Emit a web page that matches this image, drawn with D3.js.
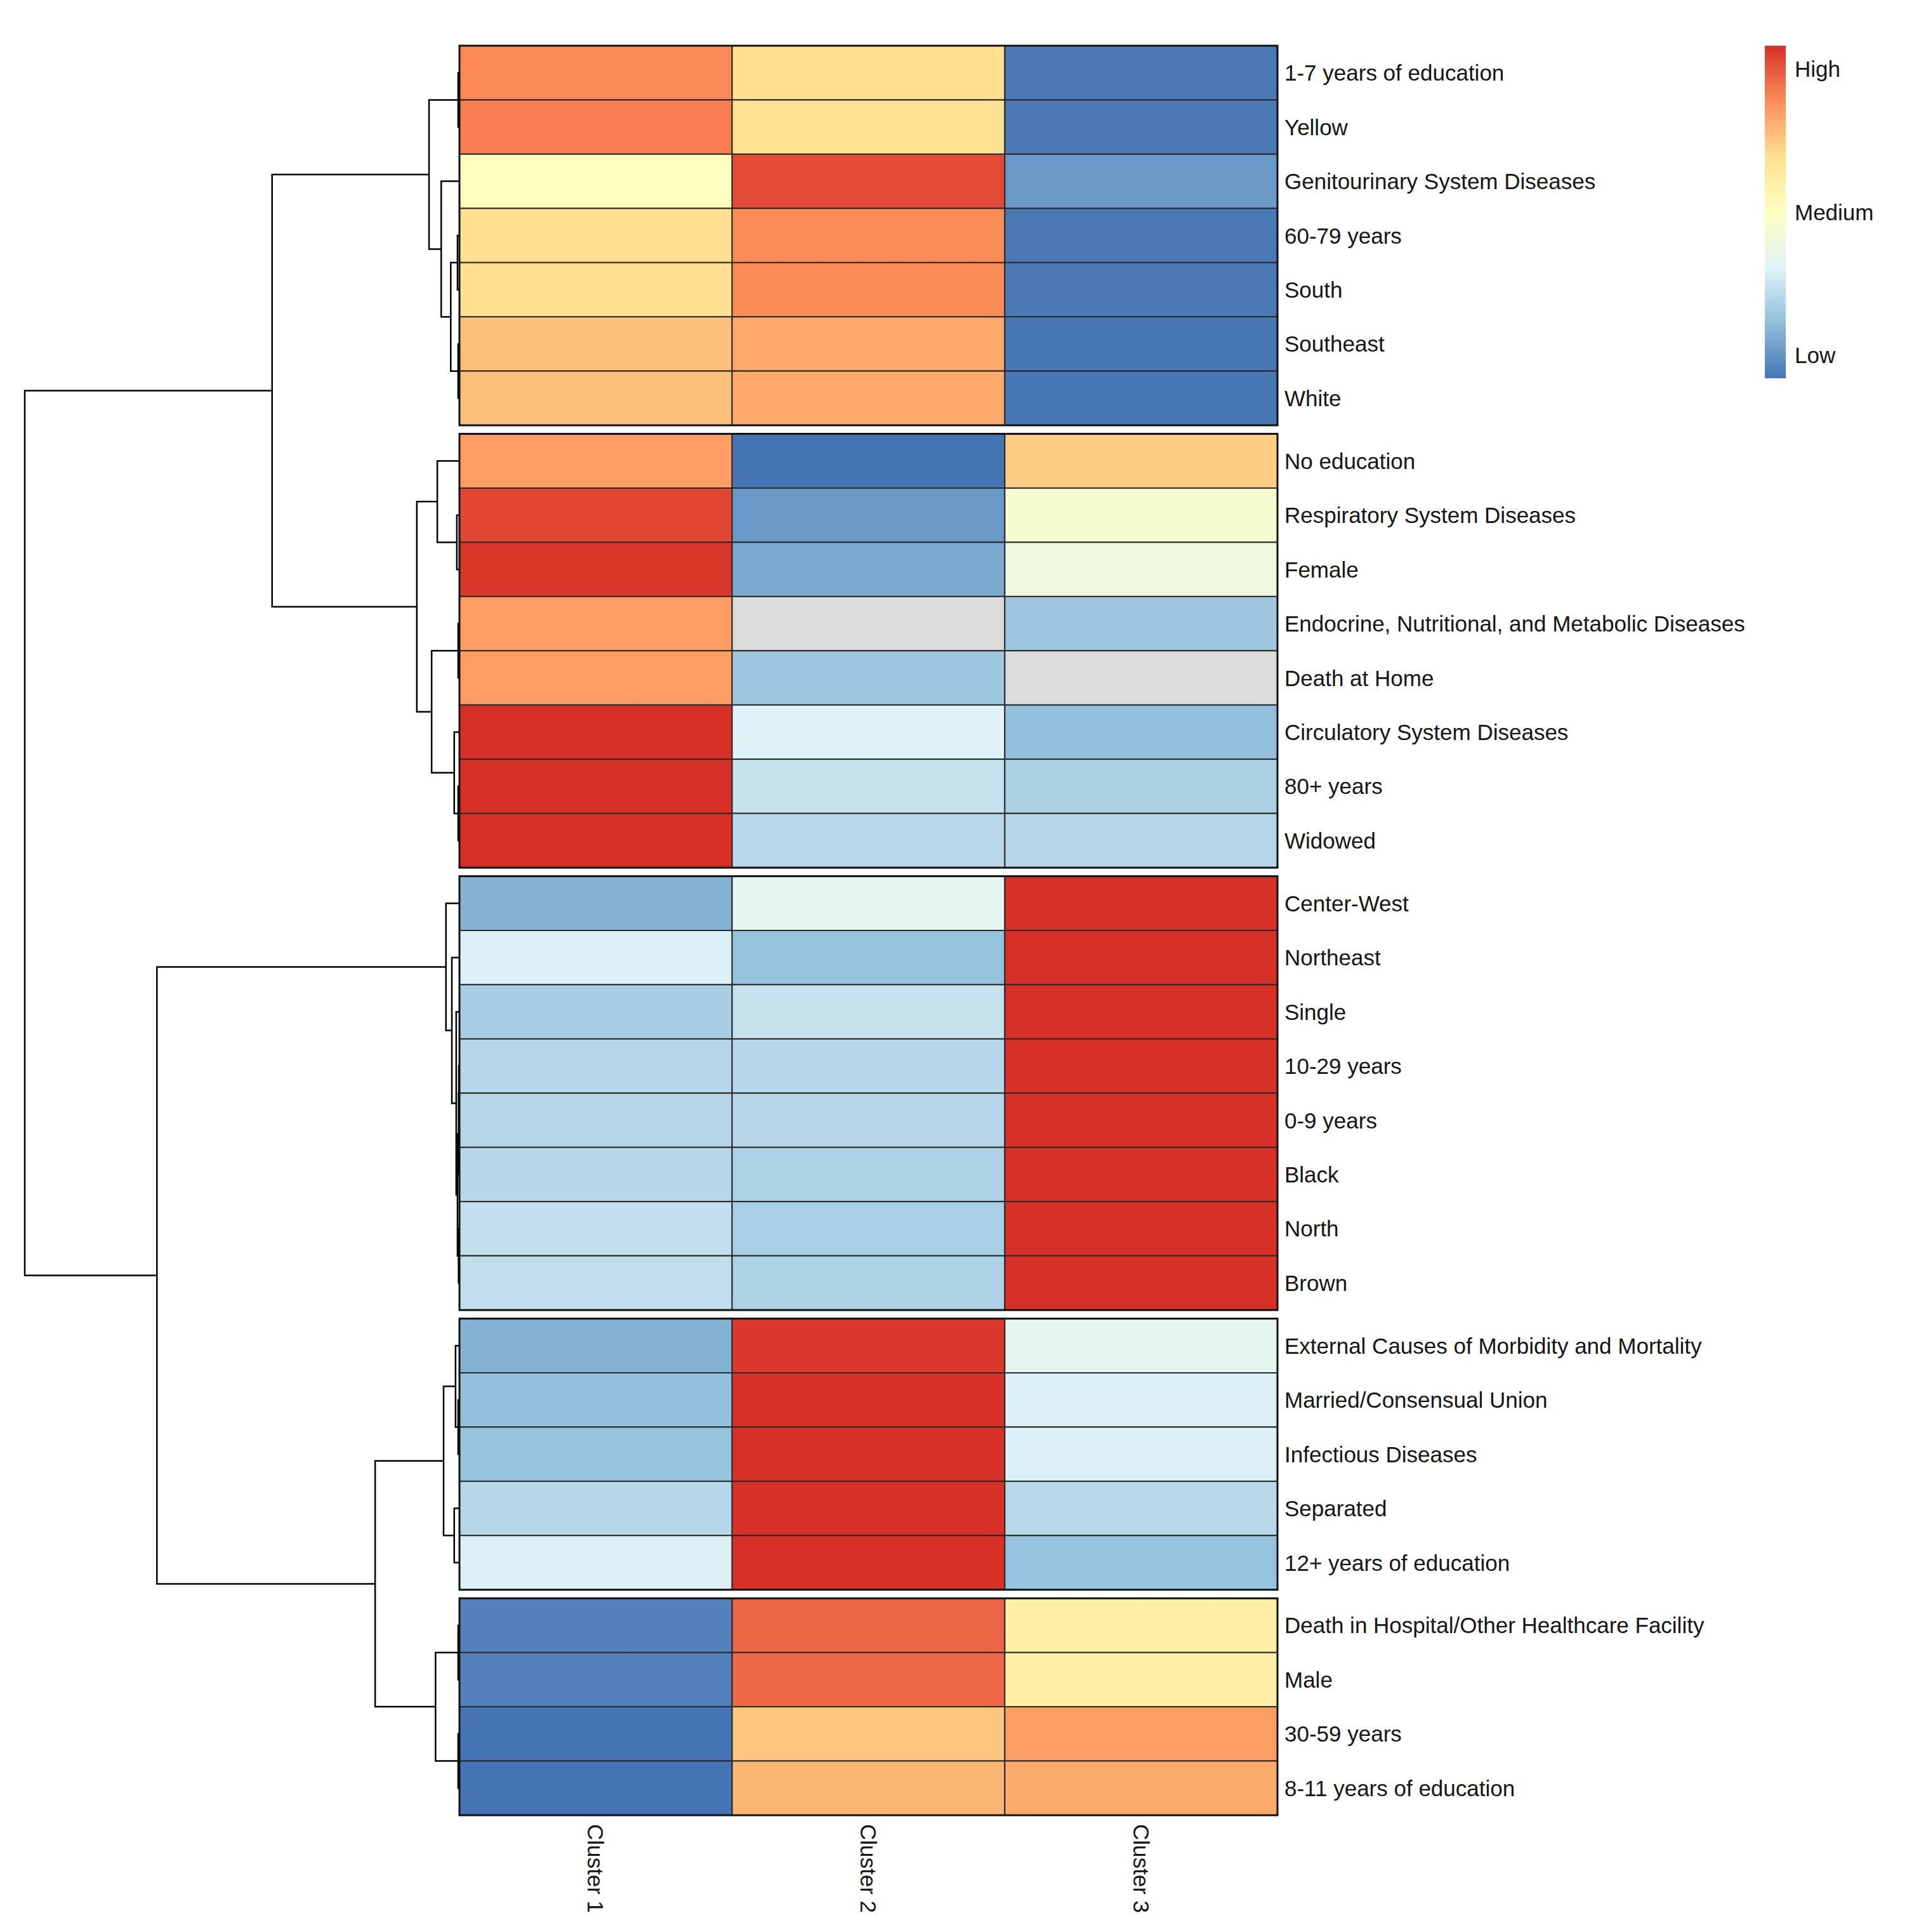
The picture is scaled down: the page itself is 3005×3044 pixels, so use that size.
<!DOCTYPE html>
<html>
<head>
<meta charset="utf-8">
<script src="https://cdn.jsdelivr.net/npm/d3@7"></script>
<style>
  body { margin: 0; background: #fff; }
  text { font-family: "Liberation Sans", Arial, sans-serif; fill: #151515; }
</style>
</head>
<body>
<svg class="heatmap" width="3005" height="3044"></svg>
<script>
// row labels, top to bottom, in dendrogram order
const rows = [
  '1-7 years of education', 'Yellow', 'Genitourinary System Diseases', '60-79 years',
  'South', 'Southeast', 'White',
  'No education', 'Respiratory System Diseases', 'Female',
  'Endocrine, Nutritional, and Metabolic Diseases', 'Death at Home',
  'Circulatory System Diseases', '80+ years', 'Widowed',
  'Center-West', 'Northeast', 'Single', '10-29 years', '0-9 years', 'Black', 'North', 'Brown',
  'External Causes of Morbidity and Mortality', 'Married/Consensual Union',
  'Infectious Diseases', 'Separated', '12+ years of education',
  'Death in Hospital/Other Healthcare Facility', 'Male', '30-59 years', '8-11 years of education',
]
const blockSizes = [7, 8, 8, 5, 4]
const clusters = ['Cluster 1', 'Cluster 2', 'Cluster 3']

// relative level, 0 = low, 0.5 = medium, 1 = high, null = missing (grey)
const cluster1 = [0.84, 0.86, 0.50, 0.665, 0.667, 0.73, 0.73,
  0.80, 0.96, 0.99, 0.80, 0.80, 1.0, 1.0, 1.0,
  0.138, 0.325, 0.215, 0.24, 0.24, 0.245, 0.27, 0.265,
  0.138, 0.17, 0.178, 0.245, 0.325,
  0.028, 0.028, 0.0, 0.0]
const cluster2 = [0.667, 0.65, 0.95, 0.833, 0.836, 0.777, 0.775,
  0.0, 0.08, 0.116, null, 0.194, 0.333, 0.28, 0.25,
  0.36, 0.175, 0.28, 0.245, 0.24, 0.23, 0.218, 0.225,
  0.985, 1.0, 1.0, 1.0, 1.0,
  0.905, 0.896, 0.717, 0.753]
const cluster3 = [0.01, 0.01, 0.081, 0.01, 0.01, 0.005, 0.005,
  0.707, 0.45, 0.41, 0.194, null, 0.17, 0.22, 0.24,
  1.0, 1.0, 1.0, 1.0, 1.0, 1.0, 1.0, 1.0,
  0.36, 0.325, 0.325, 0.25, 0.178,
  0.59, 0.59, 0.80, 0.773]

// hclust-style merges: negative = leaf (1-based row), positive = earlier merge
const merges = [
  [-1, -2, 0.3], [-4, -5, 0.45], [-6, -7, 0.3], [2, 3, 2.0], [-3, 4, 4.2], [1, 5, 7.0],
  [-9, -10, 0.6], [-8, 7, 5.1], [-11, -12, 0.3], [-14, -15, 0.3], [-13, 10, 1.2], [9, 11, 6.4], [8, 12, 9.8],
  [-19, -20, 0.15], [14, -21, 0.2], [-22, -23, 0.2], [15, 16, 0.45], [-18, 17, 0.75], [-17, 18, 1.75], [-16, 19, 3.1],
  [-25, -26, 0.3], [-24, 21, 0.9], [-27, -28, 1.2], [22, 23, 3.65],
  [-29, -30, 0.3], [-31, -32, 0.3], [25, 26, 5.5],
  [24, 27, 19.4], [20, 28, 69.6], [6, 13, 43.1], [30, 29, 100],
]

const palette = ['#4575B4', '#91BFDB', '#E0F3F8', '#FFFFBF', '#FEE090', '#FC8D59', '#D73027']
const legendTicks = [
  {label: 'High', value: 0.93},
  {label: 'Medium', value: 0.5},
  {label: 'Low', value: 0.07},
]

let svg = d3.select('svg.heatmap')
svg.append('rect').attr('width', 3005).attr('height', 3044).attr('fill', '#fff')

const hmLeft = 724, hmRight = 2013, hmTop = 72, hmBottom = 2860
const gapRatio = 0.158

let color = d3.scaleLinear()
    .domain(palette.map((c, i) => i / (palette.length - 1)))
    .range(palette)
let fill = v => v == null ? '#DCDCDC' : color(v)

let x = d3.scaleBand().domain(clusters).range([hmLeft, hmRight])

// which block each row is in
let blockOf = []
blockSizes.forEach((n, b) => { for (let i = 0; i < n; i++) blockOf.push(b) })

let slot = d3.scaleLinear()
    .domain([0, rows.length + (blockSizes.length - 1) * gapRatio])
    .range([hmTop, hmBottom])
let rowTop = i => slot(i + blockOf[i] * gapRatio)
let rowH = slot(1) - slot(0)
let rowMid = i => rowTop(i) + rowH / 2

let cells = []
rows.forEach((r, i) => {
  [cluster1, cluster2, cluster3].forEach((s, j) => cells.push({row: i, col: clusters[j], v: s[i]}))
})

svg.append('g')
  .selectAll('rect')
  .data(cells)
  .enter().append('rect')
    .attr('x', d => x(d.col))
    .attr('y', d => rowTop(d.row))
    .attr('width', x.bandwidth())
    .attr('height', rowH)
    .attr('fill', d => fill(d.v))
    .attr('stroke', '#2a2a2a')
    .attr('stroke-width', 2)

// block outlines
let starts = d3.cumsum([0].concat(blockSizes.slice(0, -1)))
svg.append('g')
  .selectAll('rect')
  .data(blockSizes.map((n, b) => ({first: starts[b], n})))
  .enter().append('rect')
    .attr('x', hmLeft)
    .attr('y', d => rowTop(d.first))
    .attr('width', hmRight - hmLeft)
    .attr('height', d => d.n * rowH)
    .attr('fill', 'none')
    .attr('stroke', '#111')
    .attr('stroke-width', 3)

// row labels
svg.append('g')
  .selectAll('text')
  .data(rows)
  .enter().append('text')
    .attr('x', hmRight + 11)
    .attr('y', (d, i) => rowMid(i))
    .attr('dominant-baseline', 'central')
    .attr('font-size', 35)
    .text(d => d)

// column labels
svg.append('g')
  .selectAll('text')
  .data(clusters)
  .enter().append('text')
    .attr('transform', d => `translate(${x(d) + x.bandwidth() / 2}, ${hmBottom + 14}) rotate(90)`)
    .attr('dominant-baseline', 'central')
    .attr('font-size', 35)
    .text(d => d)

// dendrogram
let hx = d3.scaleLinear().domain([0, d3.max(merges, m => m[2])]).range([hmLeft, 39])
let nodes = []
let pos = k => k < 0 ? {x: hmLeft, y: rowMid(-k - 1)} : nodes[k - 1]
merges.forEach(([a, b, h]) => {
  let pa = pos(a), pb = pos(b)
  nodes.push({x: hx(h), y: (pa.y + pb.y) / 2, a: pa, b: pb})
})

svg.append('g')
  .selectAll('path')
  .data(nodes)
  .enter().append('path')
    .attr('d', d => `M${d.a.x},${d.a.y}H${d.x}V${d.b.y}H${d.b.x}`)
    .attr('fill', 'none')
    .attr('stroke', '#000')
    .attr('stroke-width', 2.5)

// legend
let lg = svg.append('defs').append('linearGradient')
    .attr('id', 'lg').attr('x1', 0).attr('y1', 1).attr('x2', 0).attr('y2', 0)
lg.selectAll('stop')
  .data(palette)
  .enter().append('stop')
    .attr('offset', (d, i) => i / (palette.length - 1))
    .attr('stop-color', d => d)

let ly = d3.scaleLinear().domain([0, 1]).range([596, 72])
svg.append('rect')
    .attr('x', 2781).attr('y', ly(1))
    .attr('width', 33).attr('height', ly(0) - ly(1))
    .attr('fill', 'url(#lg)')

svg.append('g')
  .selectAll('text')
  .data(legendTicks)
  .enter().append('text')
    .attr('x', 2828)
    .attr('y', d => ly(d.value))
    .attr('dominant-baseline', 'central')
    .attr('font-size', 35)
    .text(d => d.label)
</script>
</body>
</html>
